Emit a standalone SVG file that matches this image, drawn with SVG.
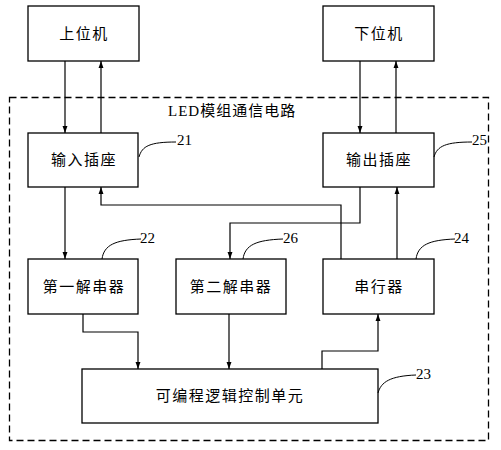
<svg xmlns="http://www.w3.org/2000/svg" width="501" height="450" viewBox="0 0 501 450">
<defs>
<marker id="arr" markerWidth="7" markerHeight="11" refX="10" refY="3.5" orient="auto" markerUnits="userSpaceOnUse" viewBox="0 0 10 7">
<path d="M0,0 L10,3.5 L0,7 z" fill="#000"/>
</marker>
</defs>
<style>
.box{fill:#fff;stroke:#000;stroke-width:1.3}
.lbl{font-family:"Liberation Serif","Noto Sans CJK SC",serif;font-size:15px;letter-spacing:1.5px;text-anchor:middle;dominant-baseline:central;fill:#000}
.num{font-family:"Liberation Serif",serif;font-size:15px;fill:#000}
.wire{fill:none;stroke:#000;stroke-width:1.2}
.lead{fill:none;stroke:#000;stroke-width:1}
</style>
<rect width="501" height="450" fill="#fff"/>
<rect x="9.5" y="97.5" width="479" height="343" fill="none" stroke="#000" stroke-width="1.3" stroke-dasharray="7,4"/>
<text x="168" y="116" style="font-family:'Liberation Serif','Noto Sans CJK SC',serif;font-size:15px;letter-spacing:1px;fill:#000">LED模组通信电路</text>

<g id="n-shangweiji"><rect class="box" x="28" y="6" width="111" height="55"/><text class="lbl" x="84" y="33.5">上位机</text></g>
<g id="n-xiaweiji"><rect class="box" x="323" y="6" width="111" height="55"/><text class="lbl" x="379" y="33.5">下位机</text></g>
<g id="n-input"><rect class="box" x="28" y="133" width="110" height="54"/><text class="lbl" x="84" y="160">输入插座</text>
<path class="lead" d="M139,157 C142,146 150,142 176,142"/><text class="num" x="177" y="145">21</text></g>
<g id="n-output"><rect class="box" x="323" y="133" width="111" height="54"/><text class="lbl" x="379" y="160">输出插座</text>
<path class="lead" d="M434,157 C437,146 446,142 472,142"/><text class="num" x="472" y="145">25</text></g>
<g id="n-deser1"><rect class="box" x="28" y="259" width="110" height="55"/><text class="lbl" x="84" y="286.5">第一解串器</text>
<path class="lead" d="M102,259 C104,245 115,240 141,239"/><text class="num" x="140" y="243">22</text></g>
<g id="n-deser2"><rect class="box" x="176" y="259" width="110" height="55"/><text class="lbl" x="231" y="286.5">第二解串器</text>
<path class="lead" d="M243,259 C245,245 256,240 283,239"/><text class="num" x="283" y="243">26</text></g>
<g id="n-ser"><rect class="box" x="323" y="259" width="111" height="55"/><text class="lbl" x="379" y="286.5">串行器</text>
<path class="lead" d="M416,259 C418,245 429,240 455,239"/><text class="num" x="454" y="243">24</text></g>
<g id="n-fpga"><rect class="box" x="82" y="369" width="296" height="54"/><text class="lbl" x="230" y="396">可编程逻辑控制单元</text>
<path class="lead" d="M378,393 C381,382 390,376 416,375"/><text class="num" x="416" y="379">23</text></g>

<g id="connectors">
<path class="wire" d="M65,61 V133" marker-end="url(#arr)"/>
<path class="wire" d="M101,133 V61" marker-end="url(#arr)"/>
<path class="wire" d="M360,61 V133" marker-end="url(#arr)"/>
<path class="wire" d="M396,133 V61" marker-end="url(#arr)"/>
<path class="wire" d="M65,187 V259" marker-end="url(#arr)"/>
<path class="wire" d="M341,259 V205 H101 V187" marker-end="url(#arr)"/>
<path class="wire" d="M360,187 V223 H230 V259" marker-end="url(#arr)"/>
<path class="wire" d="M397,259 V187" marker-end="url(#arr)"/>
<path class="wire" d="M83,314 V332 H138 V369" marker-end="url(#arr)"/>
<path class="wire" d="M229,314 V369" marker-end="url(#arr)"/>
<path class="wire" d="M322,369 V351 H378 V314" marker-end="url(#arr)"/>
</g>
</svg>
